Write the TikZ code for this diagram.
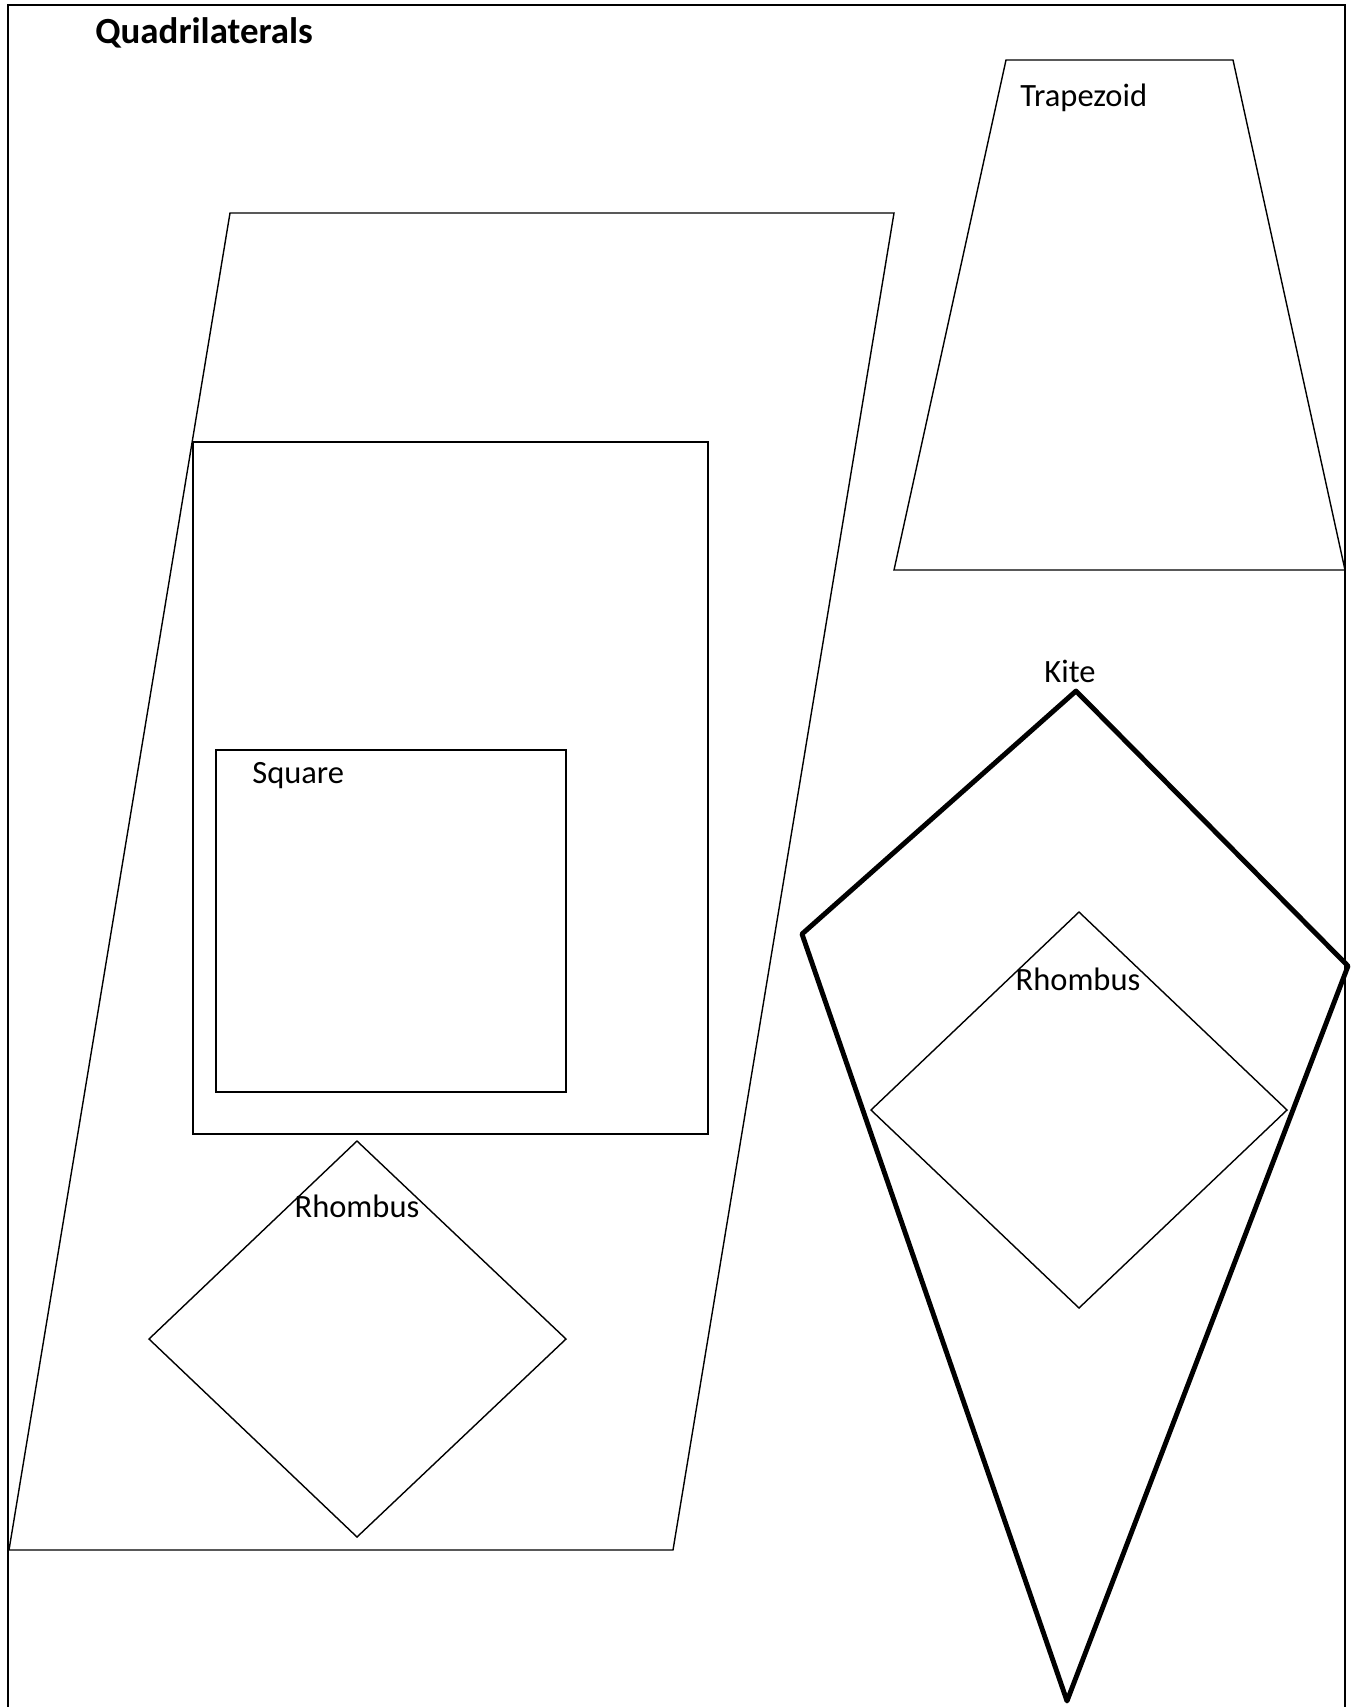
\documentclass[tikz,border=0pt]{standalone}
\usepackage{fontspec}
\setmainfont{Carlito}
\usetikzlibrary{positioning}

\begin{document}
\begin{tikzpicture}[
  x=0.02cm, y=-0.02cm,
  shp/.style={draw=black, line width=0.8pt, line join=miter},
  kiteline/.style={draw=black, line width=2.8pt, line join=round},
  lbl/.style={font=\fontsize{18.5}{21}\selectfont, inner sep=0pt},
  ttl/.style={font=\fontsize{21}{24}\selectfont\bfseries, inner sep=0pt},
]

\useasboundingbox (0,0) rectangle (1351,1707);

% frame
\draw[shp] (8,5) rectangle (1345,1725);
\node[ttl, anchor=base west] (title) at (95,43) {Quadrilaterals};

% parallelogram with rectangle, square and rhombus inside
\draw[shp] (230,213) -- (894,213) -- (673,1550) -- (9,1550) -- cycle;
\draw[shp] (193,442) rectangle (708,1134);
\draw[shp] (216,750) rectangle (566,1092);
\node[lbl, anchor=base west] (square) at (252,783) {Square};
\draw[shp] (357,1141) -- (566,1339) -- (357,1537) -- (149,1339) -- cycle;
\node[lbl, anchor=base] (rhombA) at (357,1217) {Rhombus};

% trapezoid
\draw[shp] (1006,60) -- (1233,60) -- (1345,570) -- (894,570) -- cycle;
\node[lbl, anchor=base west] (trap) at (1020,106) {Trapezoid};

% kite with rhombus
\draw[kiteline] (1076,691) -- (1348,966) -- (1067,1701) -- (802,934) -- cycle;
\node[lbl, anchor=base] (kite) at (1070,682) {Kite};
\draw[shp] (1079,912) -- (1287,1110) -- (1079,1308) -- (871,1110) -- cycle;
\node[lbl, anchor=base] (rhombB) at (1078,990) {Rhombus};

\end{tikzpicture}
\end{document}
